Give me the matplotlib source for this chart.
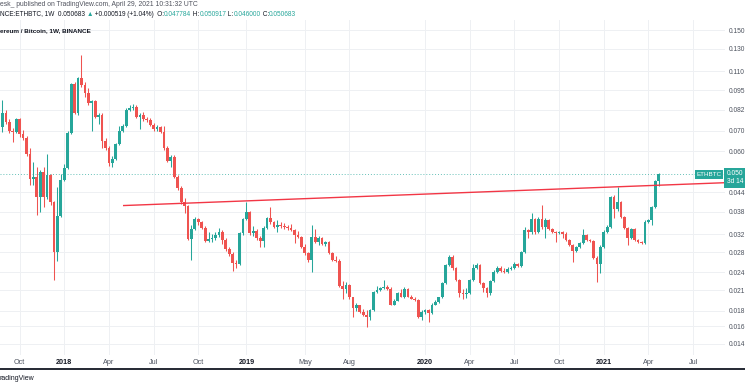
import matplotlib
matplotlib.use("Agg")
import matplotlib.pyplot as plt
import matplotlib.dates as mdates
from matplotlib.ticker import NullLocator, FixedLocator, FixedFormatter
from matplotlib.patches import Rectangle
from matplotlib.lines import Line2D
import numpy as np
import pandas as pd

plt.rcParams["font.family"] = ["Liberation Sans", "DejaVu Sans"]

# ETHBTC weekly candles (Binance)
dates = pd.date_range("2017-08-28", periods=192, freq="W-MON")

ohlc = [
    (.0721, .0884, .0694, .0801), (.0801, .0819, .0737, .0749), (.0749, .0766, .0689, .0700),
    (.0700, .0716, .0643, .0694), (.0694, .0771, .0689, .0766), (.0766, .0771, .0668, .0684),
    (.0684, .0705, .0653, .0663), (.0663, .0673, .0579, .0588), (.0588, .0615, .0465, .0486),
    (.0486, .0553, .0465, .0493), (.0493, .0532, .0371, .0425), (.0425, .0521, .0379, .0513),
    (.0513, .0532, .0394, .0425), (.0425, .0588, .0418, .0501), (.0501, .0506, .0400, .0409),
    (.0409, .0412, .0227, .0280), (.0280, .0458, .0262, .0368), (.0368, .0506, .0365, .0483),
    (.0483, .0544, .0479, .0528), (.0528, .0700, .0524, .0689), (.0689, .1005, .0684, .0997),
    (.0997, .1013, .0795, .0801), (.0801, .1051, .0789, .1043), (.1043, .1242, .0975, .0990),
    (.0990, .1013, .0904, .0932), (.0932, .0968, .0851, .0864), (.0864, .0884, .0700, .0877),
    (.0877, .0884, .0771, .0777), (.0777, .0801, .0737, .0789), (.0789, .0801, .0615, .0648),
    (.0648, .0663, .0606, .0615), (.0615, .0624, .0536, .0548), (.0548, .0579, .0532, .0566),
    (.0566, .0638, .0561, .0634), (.0634, .0727, .0629, .0700), (.0700, .0737, .0694, .0727),
    (.0727, .0832, .0721, .0819), (.0819, .0851, .0813, .0832), (.0832, .0858, .0819, .0838),
    (.0838, .0851, .0771, .0777), (.0777, .0801, .0710, .0789), (.0789, .0807, .0754, .0766),
    (.0766, .0777, .0749, .0760), (.0760, .0771, .0727, .0732), (.0732, .0743, .0700, .0710),
    (.0710, .0732, .0700, .0721), (.0721, .0727, .0689, .0694), (.0694, .0727, .0606, .0615),
    (.0615, .0624, .0553, .0557), (.0557, .0583, .0532, .0574), (.0574, .0583, .0490, .0493),
    (.0493, .0501, .0448, .0455), (.0455, .0462, .0403, .0409), (.0409, .0421, .0376, .0397),
    (.0397, .0400, .0307, .0309), (.0309, .0344, .0264, .0334), (.0334, .0365, .0331, .0360),
    (.0360, .0363, .0344, .0352), (.0352, .0355, .0334, .0336), (.0336, .0341, .0302, .0305),
    (.0305, .0326, .0302, .0309), (.0309, .0321, .0302, .0311), (.0311, .0326, .0307, .0318),
    (.0318, .0336, .0313, .0326), (.0326, .0331, .0298, .0307), (.0307, .0311, .0282, .0287),
    (.0287, .0292, .0272, .0276), (.0276, .0280, .0243, .0258), (.0258, .0264, .0248, .0256),
    (.0256, .0326, .0254, .0324), (.0324, .0363, .0318, .0360), (.0360, .0409, .0357, .0379),
    (.0379, .0382, .0318, .0324), (.0324, .0341, .0316, .0329), (.0329, .0334, .0307, .0311),
    (.0311, .0316, .0292, .0305), (.0305, .0341, .0292, .0336), (.0336, .0365, .0334, .0363),
    (.0363, .0394, .0346, .0352), (.0352, .0355, .0336, .0339), (.0339, .0357, .0326, .0344),
    (.0344, .0352, .0336, .0341), (.0341, .0349, .0334, .0339), (.0339, .0344, .0331, .0336),
    (.0336, .0346, .0329, .0331), (.0331, .0334, .0300, .0318), (.0318, .0329, .0311, .0313),
    (.0313, .0316, .0289, .0292), (.0292, .0298, .0274, .0278), (.0278, .0280, .0260, .0264),
    (.0264, .0344, .0241, .0313), (.0313, .0334, .0300, .0302), (.0302, .0316, .0296, .0311),
    (.0311, .0313, .0296, .0298), (.0298, .0305, .0294, .0302), (.0302, .0305, .0276, .0278),
    (.0278, .0280, .0262, .0264), (.0264, .0272, .0260, .0262), (.0262, .0266, .0215, .0216),
    (.0216, .0225, .0197, .0212), (.0212, .0223, .0205, .0218), (.0218, .0220, .0197, .0199),
    (.0199, .0200, .0171, .0184), (.0184, .0191, .0180, .0187), (.0187, .0188, .0177, .0178),
    (.0178, .0182, .0173, .0174), (.0174, .0181, .0159, .0171), (.0171, .0182, .0167, .0181),
    (.0181, .0208, .0180, .0207), (.0207, .0216, .0205, .0210), (.0210, .0215, .0208, .0213),
    (.0213, .0227, .0211, .0215), (.0215, .0218, .0210, .0212), (.0212, .0215, .0187, .0188),
    (.0188, .0197, .0187, .0194), (.0194, .0207, .0193, .0205), (.0205, .0212, .0199, .0200),
    (.0200, .0215, .0198, .0212), (.0212, .0213, .0199, .0200), (.0200, .0202, .0196, .0197),
    (.0197, .0199, .0193, .0195), (.0195, .0196, .0170, .0171), (.0171, .0181, .0168, .0178),
    (.0178, .0182, .0175, .0181), (.0181, .0182, .0165, .0177), (.0177, .0190, .0175, .0188),
    (.0188, .0195, .0187, .0192), (.0192, .0200, .0191, .0199), (.0199, .0223, .0198, .0222),
    (.0222, .0256, .0220, .0254), (.0254, .0274, .0252, .0270), (.0270, .0274, .0245, .0248),
    (.0248, .0250, .0225, .0227), (.0227, .0229, .0200, .0205), (.0205, .0212, .0197, .0204),
    (.0204, .0213, .0198, .0206), (.0206, .0229, .0204, .0227), (.0227, .0256, .0225, .0248),
    (.0248, .0258, .0246, .0254), (.0254, .0256, .0220, .0222), (.0222, .0223, .0207, .0213),
    (.0213, .0215, .0200, .0205), (.0205, .0227, .0203, .0225), (.0225, .0245, .0223, .0241),
    (.0241, .0252, .0239, .0248), (.0248, .0252, .0241, .0243), (.0243, .0248, .0239, .0241),
    (.0241, .0250, .0239, .0246), (.0246, .0252, .0245, .0248), (.0248, .0260, .0246, .0256),
    (.0256, .0258, .0250, .0252), (.0252, .0282, .0250, .0280), (.0280, .0339, .0278, .0331),
    (.0331, .0334, .0311, .0326), (.0326, .0376, .0321, .0360), (.0360, .0363, .0321, .0326),
    (.0326, .0365, .0324, .0360), (.0360, .0400, .0334, .0339), (.0339, .0363, .0311, .0357),
    (.0357, .0360, .0331, .0334), (.0334, .0336, .0324, .0326), (.0326, .0329, .0302, .0324),
    (.0324, .0329, .0321, .0326), (.0326, .0329, .0311, .0321), (.0321, .0326, .0305, .0307),
    (.0307, .0309, .0294, .0296), (.0296, .0298, .0260, .0282), (.0282, .0294, .0280, .0292),
    (.0292, .0302, .0289, .0300), (.0300, .0334, .0298, .0318), (.0318, .0321, .0305, .0307),
    (.0307, .0309, .0302, .0305), (.0305, .0307, .0266, .0268), (.0268, .0272, .0223, .0256),
    (.0256, .0296, .0239, .0292), (.0292, .0331, .0289, .0326), (.0326, .0344, .0324, .0339),
    (.0339, .0428, .0336, .0425), (.0425, .0431, .0363, .0388), (.0388, .0458, .0382, .0409),
    (.0409, .0412, .0363, .0365), (.0365, .0368, .0334, .0336), (.0336, .0339, .0296, .0311),
    (.0311, .0336, .0309, .0334), (.0334, .0336, .0305, .0307), (.0307, .0309, .0300, .0302),
    (.0302, .0305, .0298, .0300), (.0300, .0357, .0298, .0352), (.0352, .0360, .0349, .0357),
    (.0357, .0397, .0344, .0394), (.0394, .0483, .0391, .047784), (.047784, .050917, .046000, .050683),
]
opens = np.array([c[0] for c in ohlc])
highs = np.array([c[1] for c in ohlc])
lows = np.array([c[2] for c in ohlc])
closes = np.array([c[3] for c in ohlc])

# trend line drawn on the chart
trend_dates = pd.to_datetime(["2018-05-02", "2021-09-08"])
trend_prices = [0.0398, 0.0473]

last_price = 0.050683

price_ticks = [0.150, 0.130, 0.110, 0.095, 0.082, 0.070, 0.060, 0.044,
               0.038, 0.032, 0.028, 0.024, 0.021, 0.018, 0.016, 0.014]
time_ticks = pd.to_datetime(["2017-10-02", "2018-01-01", "2018-04-02", "2018-07-02",
                             "2018-10-01", "2019-01-07", "2019-05-06", "2019-08-05",
                             "2020-01-06", "2020-04-06", "2020-07-06", "2020-10-05",
                             "2021-01-04", "2021-04-05", "2021-07-05"])
time_labels = ["Oct", "2018", "Apr", "Jul", "Oct", "2019", "May", "Aug",
               "2020", "Apr", "Jul", "Oct", "2021", "Apr", "Jul"]

UP = "#26a69a"
DOWN = "#ef5350"
TXT = "#4c525e"

W, H = 745, 389
fig = plt.figure(figsize=(W / 100, H / 100), dpi=100)
fig.patch.set_facecolor("white")
ax = fig.add_axes([0, 1 - 355 / H, 725 / W, 335 / H])
ax.set_yscale("log")

up = closes >= opens
colors = np.where(up, UP, DOWN)
x = mdates.date2num(dates)
ax.vlines(x, lows, highs, colors=colors, linewidth=0.75, zorder=3)
bottom = np.minimum(opens, closes)
height = np.maximum(np.abs(closes - opens), bottom * 0.008)
ax.bar(x, height, bottom=bottom, width=5.6, color=colors, linewidth=0, zorder=4)

ax.plot(mdates.date2num(trend_dates), trend_prices, color="#f23645", lw=1.0, zorder=5)
ax.axhline(last_price, color=UP, lw=0.7, ls=(0, (1, 2)), alpha=0.7, zorder=2)

ax.set_xlim(mdates.date2num(pd.Timestamp("2017-08-23")), mdates.date2num(pd.Timestamp("2021-09-08")))
ax.set_ylim(0.01286, 0.1618)

ax.yaxis.tick_right()
ax.yaxis.set_major_locator(FixedLocator(price_ticks))
ax.yaxis.set_major_formatter(FixedFormatter(["%.3f" % p for p in price_ticks]))
ax.yaxis.set_minor_locator(NullLocator())
ax.xaxis.set_major_locator(FixedLocator(mdates.date2num(time_ticks)))
ax.xaxis.set_major_formatter(FixedFormatter(time_labels))
ax.tick_params(axis="y", length=0, pad=3, labelsize=4.8, labelcolor=TXT)
ax.tick_params(axis="x", length=0, pad=3, labelsize=5.2, labelcolor=TXT)
for lab in ax.get_xticklabels():
    if lab.get_text().isdigit():
        lab.set_fontweight("bold")
        lab.set_color("#131722")
ax.grid(True, color="#eef0f3", lw=0.7)
ax.set_axisbelow(True)
for s in ax.spines.values():
    s.set_visible(False)

# header
fig.text(0, 1 - 5 / H, "esk_ published on TradingView.com, April 29, 2021 10:31:32 UTC",
         fontsize=4.9, color="#50535e", va="center")
renderer = fig.canvas.get_renderer()
parts = [("NCE:ETHBTC, 1W  0.050683 ", "#131722"), ("\u25b2", UP), (" +0.000519 (+1.04%)  O:", "#131722"),
         ("0.047784", UP), (" H:", "#131722"), ("0.050917", UP), (" L:", "#131722"),
         ("0.046000", UP), (" C:", "#131722"), ("0.050683", UP)]
xpos = 0
for txt, col in parts:
    t = fig.text(xpos / W, 1 - 14 / H, txt, fontsize=4.7, color=col, va="center")
    xpos += t.get_window_extent(renderer).width
fig.text(0, 1 - 31 / H, "ereum / Bitcoin, 1W, BINANCE", fontsize=4.6, color="#131722",
         va="center", fontweight="bold")

# price tags on the right
fig.add_artist(Rectangle((695 / W, 1 - 179 / H), 28 / W, 9 / H, transform=fig.transFigure,
                         facecolor=UP, edgecolor="none"))
fig.text(709 / W, 1 - 174.5 / H, "ETHBTC", fontsize=4.5, color="white", ha="center", va="center")
fig.add_artist(Rectangle((724 / W, 1 - 188 / H), 21 / W, 20 / H, transform=fig.transFigure,
                         facecolor=UP, edgecolor="none"))
fig.text(727 / W, 1 - 173 / H, "0.050", fontsize=4.8, color="white", va="center")
fig.text(727 / W, 1 - 182 / H, "3d 14", fontsize=4.8, color="white", va="center")

# footer
fig.add_artist(Line2D([0, 1], [1 - 369 / H] * 2, color="#131722", lw=1.3, transform=fig.transFigure))
fig.text(0, 1 - 378 / H, "radingView", fontsize=5, color="#131722", va="center")

fig.savefig("out.png", dpi=100)
